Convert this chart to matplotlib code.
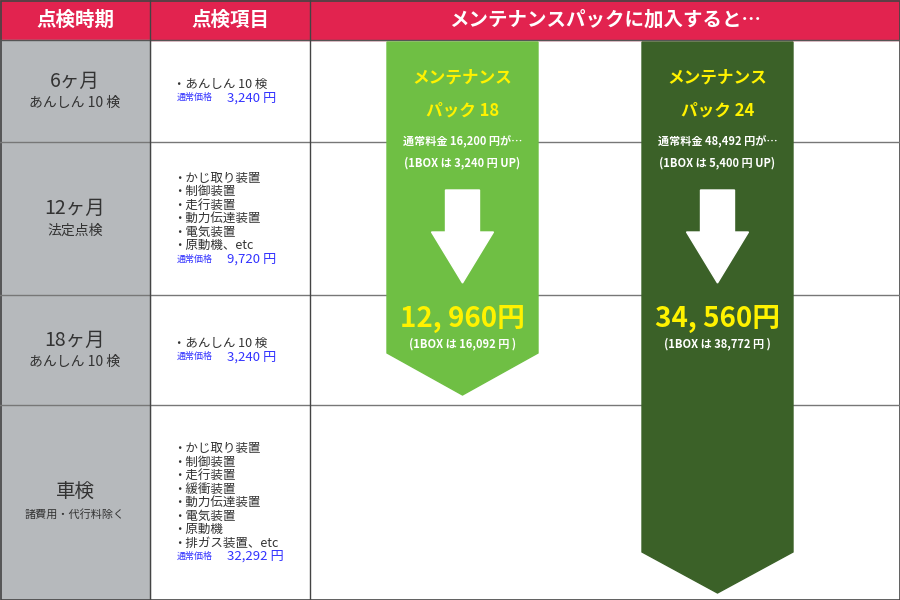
import matplotlib
matplotlib.use("Agg")
import matplotlib.pyplot as plt
from matplotlib.patches import Rectangle, Polygon

plt.rcParams["font.family"] = "Noto Sans CJK JP"

# Table content
headers = ["点検時期", "点検項目", "メンテナンスパックに加入すると…"]
periods = ["6ヶ月", "12ヶ月", "18ヶ月", "車検"]
period_notes = ["あんしん 10 検", "法定点検", "あんしん 10 検", "諸費用・代行料除く"]
items = [
  ["・あんしん 10 検"],
  ["・かじ取り装置", "・制御装置", "・走行装置", "・動力伝達装置", "・電気装置", "・原動機、etc"],
  ["・あんしん 10 検"],
  ["・かじ取り装置", "・制御装置", "・走行装置", "・緩衝装置", "・動力伝達装置", "・電気装置", "・原動機", "・排ガス装置、etc"],
]
prices = ["3,240 円", "9,720 円", "3,240 円", "32,292 円"]

# Packs
pack_names = ["メンテナンス\nパック 18", "メンテナンス\nパック 24"]
pack_regular = ["通常料金 16,200 円が…\n(1BOX は 3,240 円 UP)", "通常料金 48,492 円が…\n(1BOX は 5,400 円 UP)"]
pack_price = ["12, 960円", "34, 560円"]
pack_box = ["(1BOX は 16,092 円 )", "(1BOX は 38,772 円 )"]

# layout (pixels)
row_edges = [40, 142, 295, 405, 600]
col_edges = [0, 150, 310, 900]
red = "#e2234f"
gray = "#b6b9bc"
line = "#777777"
pack_colors = ["#6fbf44", "#3b6128"]
pack_x = [(387, 538), (642, 793)]
pack_body_end = [353, 552]
pack_tip = [395, 593]

fig = plt.figure(figsize=(9, 6), dpi=100)
ax = fig.add_axes([0, 0, 1, 1])
ax.set_xlim(0, 900)
ax.set_ylim(600, 0)
ax.axis("off")

# header
ax.add_patch(Rectangle((0, 0), 900, 40, color=red))
for i, h in enumerate(headers):
  cx = (col_edges[i] + col_edges[i + 1]) / 2
  ax.text(cx, 20, h, color="white", fontsize=14, fontweight="bold", ha="center", va="center")
ax.add_patch(Rectangle((0, 40), 150, 560, color=gray))

# grid lines
for y in row_edges[1:-1]:
  ax.plot([0, 900], [y, y], color=line, lw=1)
ax.plot([0, 900], [40, 40], color="#555555", lw=1)
for x in col_edges[1:-1]:
  ax.plot([x, x], [0, 600], color="#444444", lw=1)
ax.add_patch(Rectangle((0.5, 0.5), 899, 599, fill=False, ec="#444444", lw=1.2))

# rows
for r in range(4):
  cy = (row_edges[r] + row_edges[r + 1]) / 2
  ax.text(75, cy - 10, periods[r], fontsize=14, color="#333333", ha="center", va="center")
  ax.text(75, cy + 12, period_notes[r], fontsize=10 if r < 3 else 8, color="#333333", ha="center", va="center")
  n = len(items[r])
  lh = 13.5
  top = cy - (n + 1) * lh / 2 + lh / 2
  for k, it in enumerate(items[r]):
    ax.text(173, top + k * lh, it, fontsize=9, color="#333333", ha="left", va="center")
  py = top + n * lh
  ax.text(177, py, "通常価格", fontsize=6.5, color="#3333ff", ha="left", va="center")
  ax.text(227, py, prices[r], fontsize=9.5, color="#3333ff", ha="left", va="center")

# pack arrows
for i in range(2):
  x0, x1 = pack_x[i]
  cx = (x0 + x1) / 2
  poly = [(x0, 42), (x1, 42), (x1, pack_body_end[i]), (cx, pack_tip[i]), (x0, pack_body_end[i])]
  ax.add_patch(Polygon(poly, closed=True, color=pack_colors[i], zorder=3))
  ax.text(cx, 94, pack_names[i], fontsize=12, fontweight="bold", color="#fff200",
          ha="center", va="center", linespacing=2.0, zorder=4)
  ax.text(cx, 152, pack_regular[i], fontsize=8, fontweight="bold", color="white",
          ha="center", va="center", linespacing=1.8, zorder=4)
  ax.add_patch(Polygon([(cx - 17, 190), (cx + 17, 190), (cx + 17, 232), (cx + 31, 232),
                        (cx, 283), (cx - 31, 232), (cx - 17, 232)], closed=True, color="white", zorder=4))
  ax.text(cx, 319, pack_price[i], fontsize=20, fontweight="bold", color="#fff200",
          ha="center", va="center", zorder=4)
  ax.text(cx, 344, pack_box[i], fontsize=8, fontweight="bold", color="white",
          ha="center", va="center", zorder=4)

fig.savefig("out.png", dpi=100)
